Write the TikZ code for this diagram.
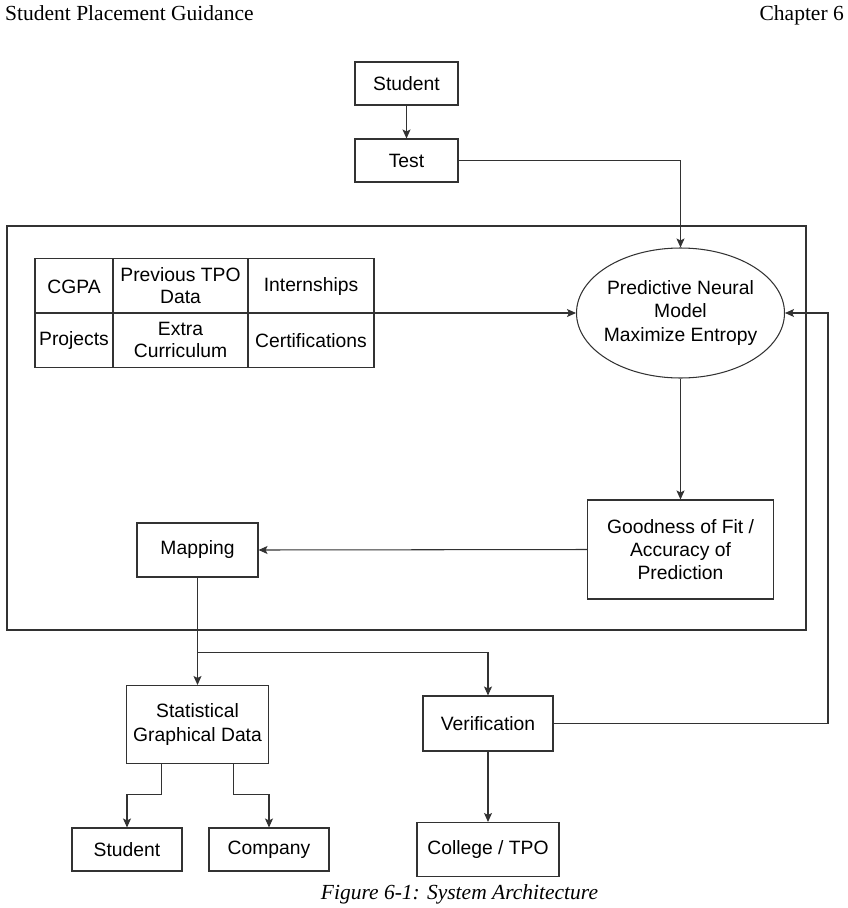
\documentclass[tikz,border=0pt]{standalone}
\usepackage{fontspec}
\setmainfont{Liberation Serif}
\newfontfamily\boxfont{Liberation Sans}
\usetikzlibrary{arrows.meta,shapes.geometric,calc}
\definecolor{edge}{RGB}{50,50,50}
\begin{document}
\begin{tikzpicture}[x=1pt,y=-1pt,
  box/.style={draw=edge,line width=1.05pt,inner sep=0pt,align=center,
    font=\boxfont\fontsize{19.3}{23.3}\selectfont},
  cell/.style={inner sep=0pt,align=center,font=\boxfont\fontsize{19.3}{22}\selectfont},
  arr/.style={draw=edge,line width=1.05pt,-{Stealth[length=9pt,width=8pt,inset=2pt]}},
  ln/.style={draw=edge,line width=1.05pt}]
\useasboundingbox (0,0) rectangle (847,908);

% page header and caption
\node[anchor=base west,inner sep=0pt,font=\fontsize{21.5}{24}\selectfont] (hl) at (5,20) {Student Placement Guidance};
\node[anchor=base east,inner sep=0pt,font=\fontsize{21.5}{24}\selectfont] (hr) at (844,20) {Chapter 6};
\node[anchor=base,inner sep=0pt,font=\itshape\fontsize{21.5}{24}\selectfont] (cap) at (459.5,899) {Figure 6-1: System Architecture};

% system boundary
\draw[ln] (7,226) rectangle (806,630);

% top boxes
\node[box,minimum width=103pt,minimum height=43pt] (stu) at (406.5,83.5) {Student};
\node[box,minimum width=103pt,minimum height=43pt] (test) at (406.5,160.5) {Test};

% input attribute table
\node[draw=edge,line width=1.05pt,inner sep=0pt,minimum width=339pt,minimum height=109pt] (tbl) at (204.5,313) {};
\draw[ln] (113,258.5) -- (113,367.5) (248,258.5) -- (248,367.5) (35,313) -- (374,313);
\node[cell] (c1) at (74,287) {CGPA};
\node[cell] (c2) at (180.5,286) {Previous TPO\\Data};
\node[cell] (c3) at (311,287) {Internships};
\node[cell] (c4) at (74,341) {Projects};
\node[cell] (c5) at (180.5,340) {Extra\\Curriculum};
\node[cell] (c6) at (311,341) {Certifications};

% model and evaluation
\node[box,ellipse,inner xsep=-5pt,minimum width=208pt,minimum height=130pt] (pnm) at (680.5,313) {Predictive Neural\\Model\\Maximize Entropy};
\node[box,minimum width=186pt,minimum height=99pt] (gof) at (680.5,549.5) {Goodness of Fit /\\Accuracy of\\Prediction};
\node[box,minimum width=121pt,minimum height=54pt] (map) at (197.5,550) {Mapping};

% outputs
\node[box,minimum width=142pt,minimum height=78pt] (stat) at (197.5,724.5) {Statistical\\Graphical Data};
\node[box,minimum width=130pt,minimum height=55pt] (ver) at (488,723.5) {Verification};
\node[box,minimum width=110pt,minimum height=43pt] (st2) at (127,849.5) {Student};
\node[box,minimum width=120pt,minimum height=43pt] (comp) at (269,849.5) {Company};
\node[box,minimum width=142pt,minimum height=54pt] (col) at (488,849.5) {College / TPO};

% connectors
\draw[arr] (stu) -- (test);
\draw[arr] (test.east) -| (pnm.north);
\draw[arr] (tbl.east) -- (pnm.west);
\draw[arr] (pnm.south) -- (gof.north);
\draw[arr] (gof.west) -- (map.east);
\coordinate (split) at ($(map.south)+(0,75)$);
\draw[ln] (map.south) -- (split);
\draw[arr] (split) -| (ver.north);
\draw[arr] (split) -- (stat.north);
\coordinate (fb) at (828,723.5);
\draw[arr] (ver.east) -- (fb) |- (pnm.east);
\coordinate (sa) at ($(stat.south west)!0.25!(stat.south east)$);
\coordinate (sb) at ($(stat.south west)!0.75!(stat.south east)$);
\draw[arr] (sa) -- ++(0,30) -| (st2.north);
\draw[arr] (sb) -- ++(0,30) -| (comp.north);
\draw[arr] (ver.south) -- (col.north);
\end{tikzpicture}
\end{document}
